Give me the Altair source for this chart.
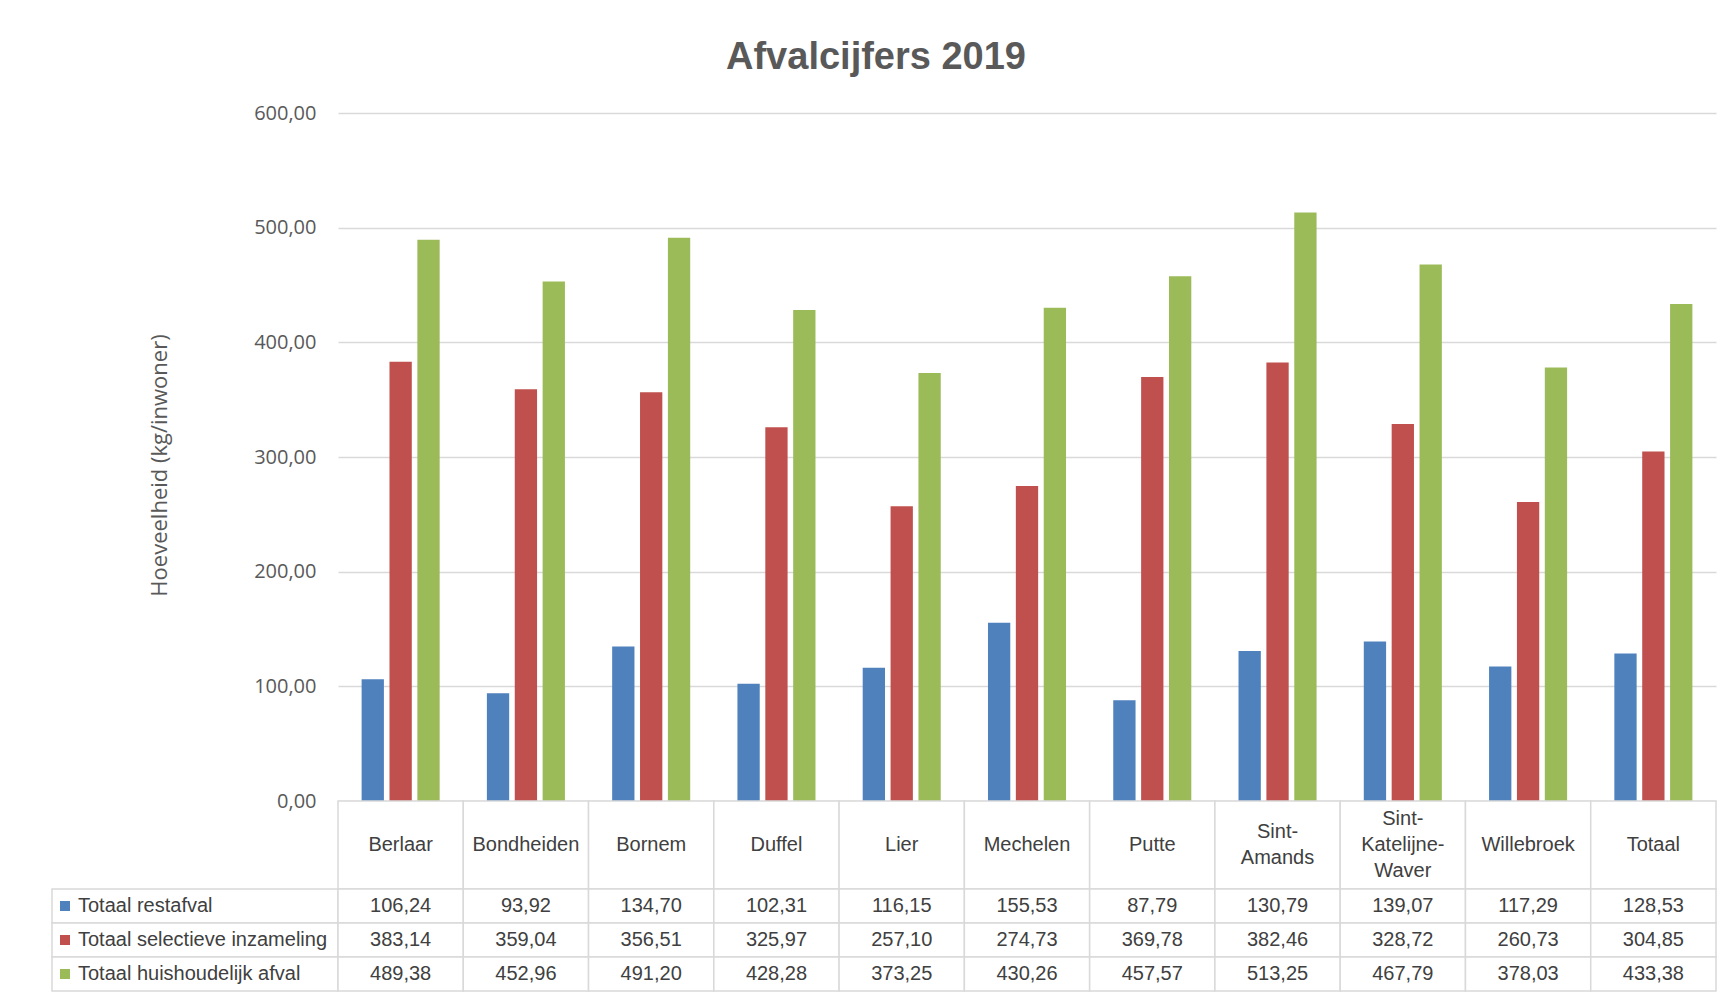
import altair as alt
import pandas as pd

categories = ["Berlaar", "Bondheiden", "Bornem", "Duffel", "Lier", "Mechelen", "Putte",
              "Sint-Amands", "Sint-Katelijne-Waver", "Willebroek", "Totaal"]
series = ["Totaal restafval", "Totaal selectieve inzameling", "Totaal huishoudelijk afval"]
restafval = [106.24, 93.92, 134.70, 102.31, 116.15, 155.53, 87.79, 130.79, 139.07, 117.29, 128.53]
selectief = [383.14, 359.04, 356.51, 325.97, 257.10, 274.73, 369.78, 382.46, 328.72, 260.73, 304.85]
huishoudelijk = [489.38, 452.96, 491.20, 428.28, 373.25, 430.26, 457.57, 513.25, 467.79, 378.03, 433.38]
colors = ["#4f81bd", "#c0504d", "#9bbb59"]
y_ticks = [0, 100, 200, 300, 400, 500, 600]

rows = []
for s, vals in zip(series, [restafval, selectief, huishoudelijk]):
    for c, v in zip(categories, vals):
        rows.append({"gemeente": c, "reeks": s, "waarde": v})
df = pd.DataFrame(rows)

# header labels wrapped after each hyphen, one row per text line
hdr_rows = []
for c in categories:
    parts = c.split("-")
    lines = [p + "-" for p in parts[:-1]] + [parts[-1]]
    n = len(lines)
    for i, ln in enumerate(lines):
        hdr_rows.append({"gemeente": c, "regel": ln, "pos": (n - 1) / 2 - i})
hdr_df = pd.DataFrame(hdr_rows)

GRID = "#d9d9d9"
TXT = "#404040"
AX = "#595959"
FONT = "Liberation Sans"
PLOT_W = 1378
LEG_W = 286
BAR_H = 688
HDR_H = 88
TAB_H = 102
LINE_H = 26

color_scale = alt.Scale(domain=series, range=colors)

bars = alt.Chart(df).mark_bar().encode(
    x=alt.X("gemeente:N", sort=categories,
            scale=alt.Scale(domain=categories, paddingInner=0.377, paddingOuter=0.1885),
            axis=None),
    xOffset=alt.XOffset("reeks:N", sort=series,
                        scale=alt.Scale(domain=series, paddingInner=0.2, paddingOuter=0)),
    y=alt.Y("waarde:Q", scale=alt.Scale(domain=[0, 600], nice=False),
            axis=alt.Axis(values=y_ticks,
                          labelExpr="replace(format(datum.value, '.2f'), '.', ',')",
                          title="Hoeveelheid (kg/inwoner)",
                          domain=False, ticks=False, grid=True,
                          gridColor=GRID, gridWidth=1.5,
                          labelFont="Open Sans", labelFontSize=20, labelColor=AX,
                          labelPadding=22,
                          titleFont="Open Sans", titleFontSize=22, titleColor=AX,
                          titleFontWeight="normal", titlePadding=82,
                          titleY=BAR_H / 2 + 8)),
    color=alt.Color("reeks:N", sort=series, scale=color_scale, legend=None),
).properties(width=PLOT_W, height=BAR_H)

# header row with municipality names
hdr_x = alt.X("gemeente:N", sort=categories,
              scale=alt.Scale(domain=categories, paddingInner=0, paddingOuter=0),
              axis=None)
hdr_cells = alt.Chart(pd.DataFrame({"gemeente": categories})).mark_rect(
    fill="white", stroke=GRID, strokeWidth=1.5).encode(
    x=hdr_x, y=alt.value(0), y2=alt.value("height"))
half = HDR_H / 2 / LINE_H
hdr_text = alt.Chart(hdr_df).mark_text(
    font=FONT, fontSize=20, color=TXT, baseline="middle", align="center").encode(
    x=hdr_x,
    y=alt.Y("pos:Q", scale=alt.Scale(domain=[-half, half], nice=False, zero=False), axis=None),
    text="regel:N")
header = alt.layer(hdr_cells, hdr_text).properties(width=PLOT_W, height=HDR_H)

# data table
tab_base = alt.Chart(df).transform_calculate(
    label="replace(format(datum.waarde, '.2f'), '.', ',')"
).encode(
    x=alt.X("gemeente:N", sort=categories,
            scale=alt.Scale(domain=categories, paddingInner=0, paddingOuter=0), axis=None),
    y=alt.Y("reeks:N", sort=series,
            scale=alt.Scale(domain=series, paddingInner=0, paddingOuter=0), axis=None),
)
tab_cells = tab_base.mark_rect(fill="white", stroke=GRID, strokeWidth=1.5)
tab_text = tab_base.mark_text(font=FONT, fontSize=20, color=TXT,
                              baseline="middle", align="center").encode(text="label:N")
table = alt.layer(tab_cells, tab_text).properties(width=PLOT_W, height=TAB_H)

# legend column of the table
leg_df = pd.DataFrame({"reeks": series})
leg_base = alt.Chart(leg_df).encode(
    y=alt.Y("reeks:N", sort=series,
            scale=alt.Scale(domain=series, paddingInner=0, paddingOuter=0), axis=None)
)
leg_cells = leg_base.mark_rect(fill="white", stroke=GRID, strokeWidth=1.5).encode(
    x=alt.value(0), x2=alt.value("width"))
leg_sq = leg_base.mark_square(size=100, opacity=1, filled=True).encode(
    x=alt.value(13),
    color=alt.Color("reeks:N", sort=series, scale=color_scale, legend=None))
leg_txt = leg_base.mark_text(font=FONT, fontSize=20, color=TXT, align="left",
                             baseline="middle").encode(x=alt.value(26), text="reeks:N")
legend_col = alt.layer(leg_cells, leg_sq, leg_txt).properties(width=LEG_W, height=TAB_H)

blank = alt.Chart(pd.DataFrame({"a": [0]})).mark_point(
    opacity=0, size=1, strokeWidth=0).encode(x=alt.value(40), y=alt.value(40))
blank_top = blank.properties(width=LEG_W, height=BAR_H)
blank_mid = blank.properties(width=LEG_W, height=HDR_H)

chart = alt.concat(
    blank_top, bars, blank_mid, header, legend_col, table,
    columns=2, spacing=0, bounds="flush", align="each"
).resolve_scale(
    x="independent", y="independent", color="shared"
).properties(
    title=alt.TitleParams(text="Afvalcijfers 2019", font=FONT, fontSize=38,
                          fontWeight="bold", color=AX, anchor="middle", offset=26, dx=-8),
    padding={"left": 42, "top": 30, "right": 0, "bottom": 0},
    background="white",
).configure_view(stroke="transparent")

chart.save("out.html", embed_options={"renderer": "svg", "actions": False})
